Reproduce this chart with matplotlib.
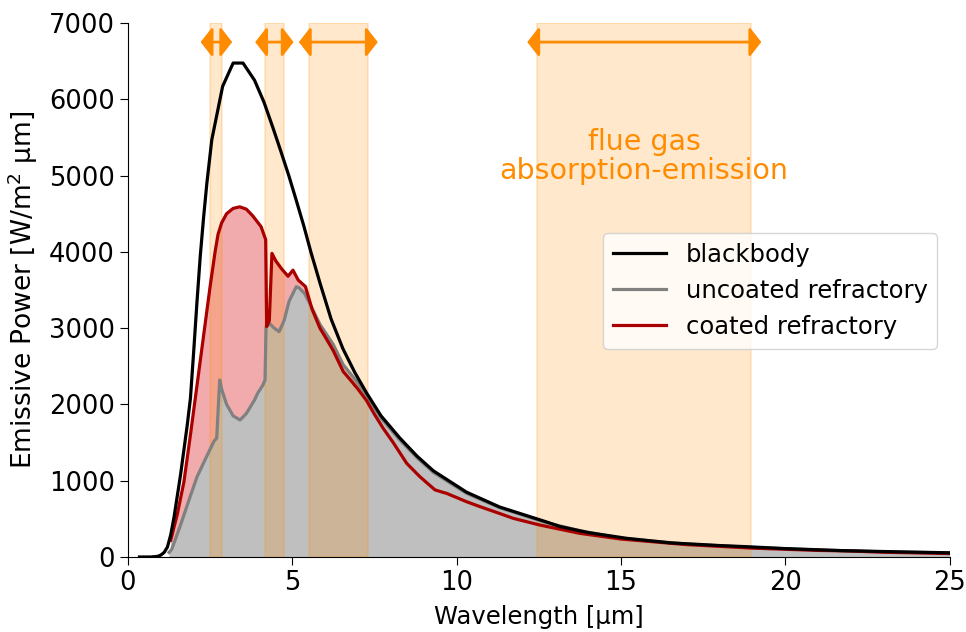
import numpy as np
import matplotlib
matplotlib.use("Agg")
import matplotlib.pyplot as plt

# ---- data ----
wl_black = [0.35, 0.7, 0.9, 1.0, 1.1, 1.2, 1.3, 1.4, 1.5, 1.6, 1.7, 1.8, 1.9, 2.0, 2.1, 2.2, 2.3,
            2.4, 2.55, 2.88, 3.2, 3.5, 3.85, 4.14, 4.4, 4.65, 4.9, 5.11, 5.35, 5.57, 5.85, 6.18,
            6.54, 6.9, 7.26, 7.7, 8.27, 8.8, 9.29, 10.3, 11.31, 12.73, 13.14, 14.0, 15.17, 16.5,
            18.0, 18.82, 20.0, 21.75, 23.5, 25.0]
E_black = [0, 0, 8, 25, 60, 130, 290, 520, 800, 1080, 1400, 1720, 2080, 2700, 3350, 3950, 4450,
           4900, 5470, 6170, 6475, 6475, 6250, 5960, 5640, 5320, 4990, 4690, 4340, 3990, 3580, 3120,
           2730, 2420, 2150, 1850, 1560, 1320, 1130, 850, 655, 460, 400, 320, 245, 185,
           150, 135, 110, 83, 67, 55]

wl_uncoated = [1.25, 1.33, 1.6, 1.89, 2.1, 2.39, 2.62, 2.70, 2.79, 2.85, 3.0, 3.2, 3.41, 3.6, 3.85,
               3.95, 4.1, 4.17, 4.2, 4.3, 4.45, 4.6, 4.75, 4.9, 5.12, 5.2, 5.37, 5.5, 5.84, 6.24,
               6.55, 7.0, 7.26, 7.7, 8.27, 8.8, 9.29, 10.3, 11.31, 12.73, 13.75, 15.0, 17.0, 19.0,
               21.0, 23.0, 25.0]
E_uncoated = [60, 100, 420, 790, 1050, 1315, 1520, 1560, 2320, 2200, 2000, 1850, 1796, 1880, 2058,
              2150, 2250, 2320, 3019, 3063, 3000, 2954, 3100, 3350, 3543, 3530, 3456, 3350, 3050, 2790,
              2520, 2280, 2120, 1820, 1535, 1300, 1110, 835, 645, 450, 345, 245, 170, 125,
              92, 68, 52]

wl_coated = [1.3, 1.5, 1.7, 1.9, 2.1, 2.3, 2.5, 2.65, 2.74, 2.85, 3.0, 3.2, 3.4, 3.6, 3.8, 4.05,
             4.19, 4.22, 4.30, 4.38, 4.5, 4.67, 4.87, 5.02, 5.18, 5.4, 5.6, 5.84, 6.05, 6.24, 6.55,
             6.75, 7.0, 7.26, 7.5, 7.76, 8.07, 8.48, 8.88, 9.34, 9.6, 9.69, 10.3, 10.71, 11.31,
             11.72, 12.53, 13.75, 15.0, 17.0, 19.0, 21.0, 21.8, 22.0, 23.0, 25.0]
E_coated = [220, 560, 980, 1600, 2250, 2900, 3550, 4000, 4230, 4380, 4500, 4570, 4590, 4560, 4470, 4330,
            4160, 3020, 3100, 3980, 3880, 3780, 3680, 3760, 3630, 3545, 3250, 3000, 2850, 2710, 2430,
            2330, 2200, 2050, 1870, 1690, 1500, 1228, 1053, 880, 845, 835, 725, 660, 570,
            507, 419, 310, 235, 162, 116, 86, 80, 78, 62, 45]

bands = [(2.51, 2.87), (4.17, 4.74), (5.5, 7.3), (12.45, 18.97)]
band_label = "flue gas\nabsorption-emission"
series_labels = ["blackbody", "uncoated refractory", "coated refractory"]
xticks = [0, 5, 10, 15, 20, 25]
yticks = [0, 1000, 2000, 3000, 4000, 5000, 6000, 7000]

ORANGE = "darkorange"

fig = plt.figure(figsize=(9.66, 6.32), dpi=100)
ax = fig.add_axes([0.1325, 0.1187, 0.8505, 0.8449])

# fills
ax.fill_between(wl_coated, 0, E_coated, color="#f2abad", lw=0, zorder=1)
ax.fill_between(wl_uncoated, 0, E_uncoated, color="#bfbfbf", lw=0, zorder=1.5)

# absorption bands
for a, b in bands:
    ax.axvspan(a, b, color=ORANGE, alpha=0.2, lw=1.2, zorder=2)

# lines
ax.plot(wl_black, E_black, color="black", lw=2.3, label=series_labels[0], zorder=4)
ax.plot(wl_uncoated, E_uncoated, color="gray", lw=2.3, label=series_labels[1], zorder=3)
ax.plot(wl_coated, E_coated, color="#aa0000", lw=2.3, label=series_labels[2], zorder=3.5)

# arrows across bands
for a, b in bands:
    ax.annotate("", xy=(a - 0.3, 6750), xytext=(b + 0.3, 6750),
                arrowprops=dict(arrowstyle="<|-|>,head_length=0.35,head_width=0.45",
                                color=ORANGE, lw=2, mutation_scale=20,
                                shrinkA=0, shrinkB=0), zorder=5)

ax.text(15.7, 5250, band_label, color=ORANGE, fontsize=20.5, ha="center", va="center",
        linespacing=1.08)

ax.set_xlim(0, 25)
ax.set_ylim(0, 7000)
ax.set_xticks(xticks)
ax.set_yticks(yticks)
ax.tick_params(labelsize=18.5, length=6)
ax.set_xlabel("Wavelength [µm]", fontsize=17.5, labelpad=6)
ax.set_ylabel("Emissive Power [W/m$^2$ µm]", fontsize=19, labelpad=6)
ax.spines["top"].set_visible(False)
ax.spines["right"].set_visible(False)

leg = ax.legend(loc="upper right", bbox_to_anchor=(0.985, 0.607), borderaxespad=0,
                fontsize=17.5, handlelength=2.2, framealpha=0.8)
leg.get_frame().set_edgecolor("#cccccc")

fig.savefig("out.png", dpi=100)
